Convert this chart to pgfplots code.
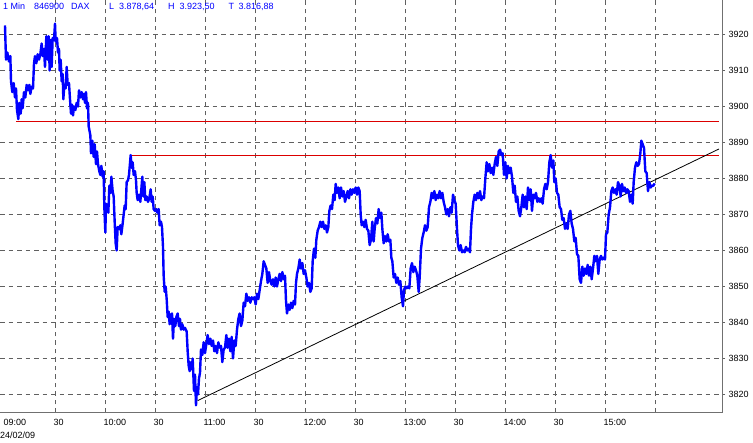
\documentclass[border=0pt]{standalone}
\usepackage{fontspec}
\setmainfont{Liberation Sans}
\usepackage{pgfplots}
\usepackage{pgfplotstable}
\pgfplotsset{compat=1.18}
\definecolor{gridgray}{RGB}{96,96,96}
\definecolor{framegray}{RGB}{112,112,112}
\definecolor{lineblue}{RGB}{0,0,255}
\definecolor{hlred}{RGB}{220,0,0}

\pgfplotstableread{
m v
0 3922.5
0.6 3913
1.4 3915
2.4 3912.5
3.2 3914
3.6 3907
4.4 3904
5.2 3906.5
6 3902.5
6.6 3905
7.2 3899
8 3896.5
8.6 3901
9.4 3898
10 3902
10.6 3899.5
11.4 3904
12.2 3902.5
13 3906
13.8 3904.5
14.6 3906
15.2 3903.5
16 3905.5
16.8 3905
17.4 3912
18 3914
18.8 3912
19.6 3914.5
20.4 3913
21.2 3914.5
22 3917.5
22.6 3914
23.4 3916
24 3911
24.8 3919.5
25.6 3913
26.2 3919.5
26.8 3910
27.4 3918.5
28 3911
28.6 3919
29.4 3918.5
30 3923
30.4 3918
31.2 3919
31.8 3915
32.4 3916
32.8 3910
33.4 3913
34 3907
34.6 3909
35 3902
35.6 3906
36.4 3905
37 3911
37.6 3906
38.4 3906.5
39 3902
39.6 3898
40.2 3900.5
40.8 3897.5
41.4 3900
42.2 3899
43 3901
43.8 3900
44.4 3904.5
45.2 3902.5
46 3904
46.8 3902
47.4 3903.5
48 3901
48.6 3904
49.2 3899.5
49.8 3901
50.2 3894.5
51.2 3892
51.6 3887
52.4 3890.5
53.2 3886
53.8 3889.5
54.6 3884
55.2 3887.5
55.8 3884
56.6 3882
57.2 3881
57.8 3883.5
58.6 3880.5
59.2 3882
59.6 3872
60.2 3865
60.6 3873
61.4 3871.5
62 3870.5
62.6 3878
63.4 3876
63.8 3880.5
64.6 3876.5
65.2 3875
65.8 3868
66.4 3862
67 3860
67.6 3866.5
68.4 3866
69.2 3867
69.8 3864.5
70.6 3867.5
71.2 3870
71.8 3872.5
72.4 3871.5
73 3879
73.8 3879.5
74.4 3881
75.4 3886.5
76 3883
76.6 3884.5
77.2 3881
78 3882
78.6 3879.5
79 3876
79.6 3874
80.4 3875.5
81.2 3873.5
81.8 3877
82.4 3880.5
83 3875
83.6 3879
84.2 3874
85 3875
85.8 3873.5
86.6 3874.5
87.4 3877
88 3873.5
88.6 3875
89.2 3871.5
90 3871
90.8 3871.5
91.4 3870.5
92.2 3871.5
92.8 3867
93.6 3868
94.2 3866.5
94.8 3861
95.2 3853
95.8 3848.5
96.4 3850
97 3846.5
97.6 3841.5
98.2 3843
98.8 3839.5
99.4 3842
100.2 3842.5
100.8 3835.5
101.4 3841
102.2 3839
102.8 3841.5
103.6 3842.5
104.4 3839
105 3841
105.6 3838
106.4 3839.5
107.2 3838
108 3838.5
109 3837.5
109.6 3832
110.2 3828
110.8 3826.5
111 3829
112 3827
112.6 3830
113.4 3821
114 3825.5
114.6 3817
115.2 3822
115.8 3820
116.4 3824.5
117 3826
117.6 3832.5
118.4 3831
119.2 3834.5
120 3831.5
120.8 3834
121.6 3836.5
122.4 3834
123.2 3835.5
124 3833.5
124.8 3835
125.6 3832
126.4 3833.5
127.2 3831.5
128 3834.5
128.8 3833
129.6 3833.5
130.4 3829
131.2 3832.5
132 3833
132.8 3836.5
133.6 3833
134.4 3835.5
135.2 3832
136 3836
136.8 3830
137.6 3835
138.4 3833.5
139.2 3838
140 3841
140.8 3842.5
141.6 3839
142.4 3840.5
143.2 3845.5
144 3844.5
144.8 3848
145.6 3846
146.4 3847
147.2 3845.5
148 3847
148.8 3846.5
149.6 3847
150.4 3845
151.2 3848
152 3846.5
152.8 3849
153.6 3851.5
154.4 3853.5
155.2 3857
156 3856
156.8 3855
157.6 3851
158.4 3854
159.2 3851.5
160 3850.5
160.8 3852
161.6 3850
162.4 3852.5
163.2 3850
164 3852
164.8 3853.5
165.6 3851.5
166.4 3854
167.2 3852
168 3853
168.6 3846
169.2 3842.5
170 3845
170.8 3843.5
171.6 3845.5
172.4 3844
173.2 3846
174 3845
174.6 3851
175.2 3853.5
176 3855
176.8 3857.5
177.6 3855
178.4 3856.5
179.2 3853.5
180 3854.5
180.8 3852.5
181.6 3850
182.4 3851
183.2 3848.5
184 3849.5
184.6 3857
185.4 3860.5
186.2 3858
186.8 3863
187.6 3865.5
188.4 3866.5
189.2 3868
190 3866.5
190.8 3868
191.6 3866
192.4 3867
193.2 3865
194 3866.5
194.6 3871
195.4 3872.5
196.2 3871.5
197 3875.5
197.8 3874
198.4 3878.5
199.2 3876
200 3877.5
200.8 3874.5
201.6 3877.5
202.4 3875
203.2 3876.5
204 3873.5
204.8 3875
205.6 3876.5
206.4 3874.5
207.2 3877
208 3875.5
208.8 3877
209.6 3876
210.4 3877.5
211.2 3875.5
212 3877.5
212.8 3876.5
213.4 3870
214 3867
214.8 3868
215.6 3866.5
216.4 3868.5
217.2 3866
218 3865.5
218.8 3861.5
219.6 3863
220.4 3868
221.2 3862.5
221.8 3866
222.6 3869
223.4 3867.5
224.2 3871.5
225 3869
225.8 3870.5
226.4 3866
227.2 3862
228 3864
228.8 3862.5
229.6 3864.5
230.4 3862.5
231.2 3863
231.8 3858
232.4 3857
233.2 3852.5
234 3853.5
234.8 3851
235.6 3852.5
236.4 3850.5
237.2 3851.5
238 3847
238.8 3844.5
239.4 3849
240.2 3850
241 3849.5
241.8 3850
242.6 3849.5
243.4 3855
244.2 3856.5
245 3854
245.8 3855.5
246.6 3854.5
247.4 3853
248.2 3848.5
248.8 3852.5
249.6 3860.5
250.4 3863.5
251.2 3865
252 3867
252.8 3865.5
253.6 3866.5
254.4 3872
255.2 3873.5
256 3876
256.8 3874.5
257.6 3876.5
258.4 3874
259.2 3875.5
260 3874.5
260.8 3876.5
261.6 3874.5
262.4 3876
263.2 3873.5
264 3872
264.8 3870
265.6 3871.5
266.4 3869.5
267.2 3872
268 3870.5
268.8 3875.5
269.6 3874
270.4 3873
271.2 3866
271.8 3861.5
272.6 3860
273.4 3861.5
274.2 3859.5
275 3860
275.8 3859.5
276.6 3861
277.4 3860
278.2 3860.5
279 3859.5
279.6 3866
280.2 3870
281 3873.5
281.8 3875.5
282.6 3874
283.4 3876
284.2 3874.5
285 3876.5
285.8 3874
286.6 3875
287.4 3874.5
288.2 3880
289 3884.5
289.8 3882
290.6 3884
291.4 3881.5
292.2 3883
293 3881
293.8 3884
294.6 3886
295.4 3883.5
296.2 3887.5
297 3888
297.8 3886.5
298.6 3887
299.4 3881
300.2 3884.5
301 3880
301.8 3883.5
302.6 3881.5
303.4 3883
304.2 3880.5
305 3876
305.8 3878
306.6 3873.5
307.4 3875
308.2 3871
309 3869.5
309.8 3872
310.6 3875.5
311.4 3872
312.2 3875
313 3871.5
313.8 3877.5
314.6 3874
315.4 3877
316.2 3871
317 3875.5
317.8 3874.5
318.6 3876
319.4 3873.5
320.2 3874.5
321 3873.5
321.8 3874.5
322.6 3873
323.4 3877
324.2 3878.5
325 3877
325.8 3879
326.6 3884.5
327.4 3886.5
328.2 3883
329 3885
329.6 3879
330.4 3880
331.2 3876
332 3875.5
332.8 3872
333.6 3871.5
334.4 3868.5
335.2 3869
336 3866
336.8 3867.5
337.6 3866
338.4 3870
339.2 3871
340 3867.5
340.8 3866
341.6 3862.5
342.4 3863.5
343.2 3859
344 3858.5
344.8 3852
345.6 3851
346.4 3855.5
347.2 3853
348 3855
348.8 3853.5
349.6 3856
350.4 3853
351.2 3855.5
352 3852
352.8 3855
353.6 3858.5
354.4 3857
355.2 3858.5
356 3853.5
356.8 3857.5
357.6 3858.5
358.4 3857.5
359.2 3858
360 3857.5
360.6 3864.5
361.4 3865
362.2 3870
363 3872
363.8 3876.5
364.6 3877.5
365.4 3876
366.2 3877
367 3875.5
367.8 3879
368.6 3878
369.4 3875
370.2 3878.5
371 3876.5
371.8 3877.5
372.6 3876
373.4 3877
374.2 3876.5
375 3873.5
375.8 3875.5
376.6 3873
377.2 3879
378 3883
378.8 3884.5
379.6 3883.5
380.4 3884
381.2 3887
381.8 3890.5
382.6 3889.5
383.4 3888.5
384.2 3882
385 3881.5
385.8 3876.5
386.6 3879
387.4 3877.5
388.2 3878
389 3878
389.8 3878.64
}\dax

\begin{document}
\begin{tikzpicture}
\path[use as bounding box] (0pt,0pt) rectangle (753pt,443pt);
\begin{axis}[
  at={(0pt,30pt)}, anchor=south west,
  width=722pt, height=413pt, scale only axis,
  xmin=-3, xmax=430.2, ymin=3814.86, ymax=3929.58,
  axis line style={draw=none},
  xtick={30,60,...,390},
  xticklabels={30,10:00,30,11:00,30,12:00,30,13:00,30,14:00,30,15:00,{}},
  extra x ticks={0}, extra x tick labels={09:00},
  extra x tick style={grid=none},
  ytick={3820,3830,...,3920},
  yticklabel pos=right, ytick pos=right, xtick pos=bottom,
  tick align=outside, major tick length=3pt,
  xtick style={draw=none},
  ytick style={draw=gridgray, line width=0.8pt},
  grid=major,
  major grid style={draw=gridgray, dash pattern=on 4.5pt off 4pt, line width=0.8pt},
  /pgf/number format/assume math mode=true,
  /pgf/number format/1000 sep={},
  tick label style={font=\fontsize{9}{10}\selectfont, text=black},
  xticklabel style={anchor=north west, xshift=-5pt},
  yticklabel style={anchor=west},
  after end axis/.code={
    \draw[framegray, line width=1pt] (rel axis cs:0,0) -- (rel axis cs:1,0) -- (rel axis cs:1,1);
  },
]
\addplot[hlred, line width=0.7pt] coordinates {(6.6,3896) (428.4,3896)};
\addplot[hlred, line width=0.7pt] coordinates {(75.4,3886.45) (428.4,3886.45)};
\addplot[black, line width=0.8pt] coordinates {(115.6,3818.3) (428.4,3888.2)};
\addplot[lineblue, line width=2.4pt, line join=round] table[x=m, y=v] {\dax};
\end{axis}
\begin{scope}[every node/.style={anchor=base west, inner sep=0pt, text=lineblue, font=\fontsize{9}{10}\selectfont}]
\node at (3pt,433.5pt) {1 Min};
\node at (34pt,433.5pt) {846900};
\node at (71pt,433.5pt) {DAX};
\node at (109pt,433.5pt) {L};
\node at (119pt,433.5pt) {3.878,64};
\node at (168pt,433.5pt) {H};
\node at (179.5pt,433.5pt) {3.923,50};
\node at (228.5pt,433.5pt) {T};
\node at (238.5pt,433.5pt) {3.816,88};
\end{scope}
\node[anchor=base west, inner sep=0pt, font=\fontsize{9}{10}\selectfont] at (0pt,4.7pt) {24/02/09};
\end{tikzpicture}
\end{document}
